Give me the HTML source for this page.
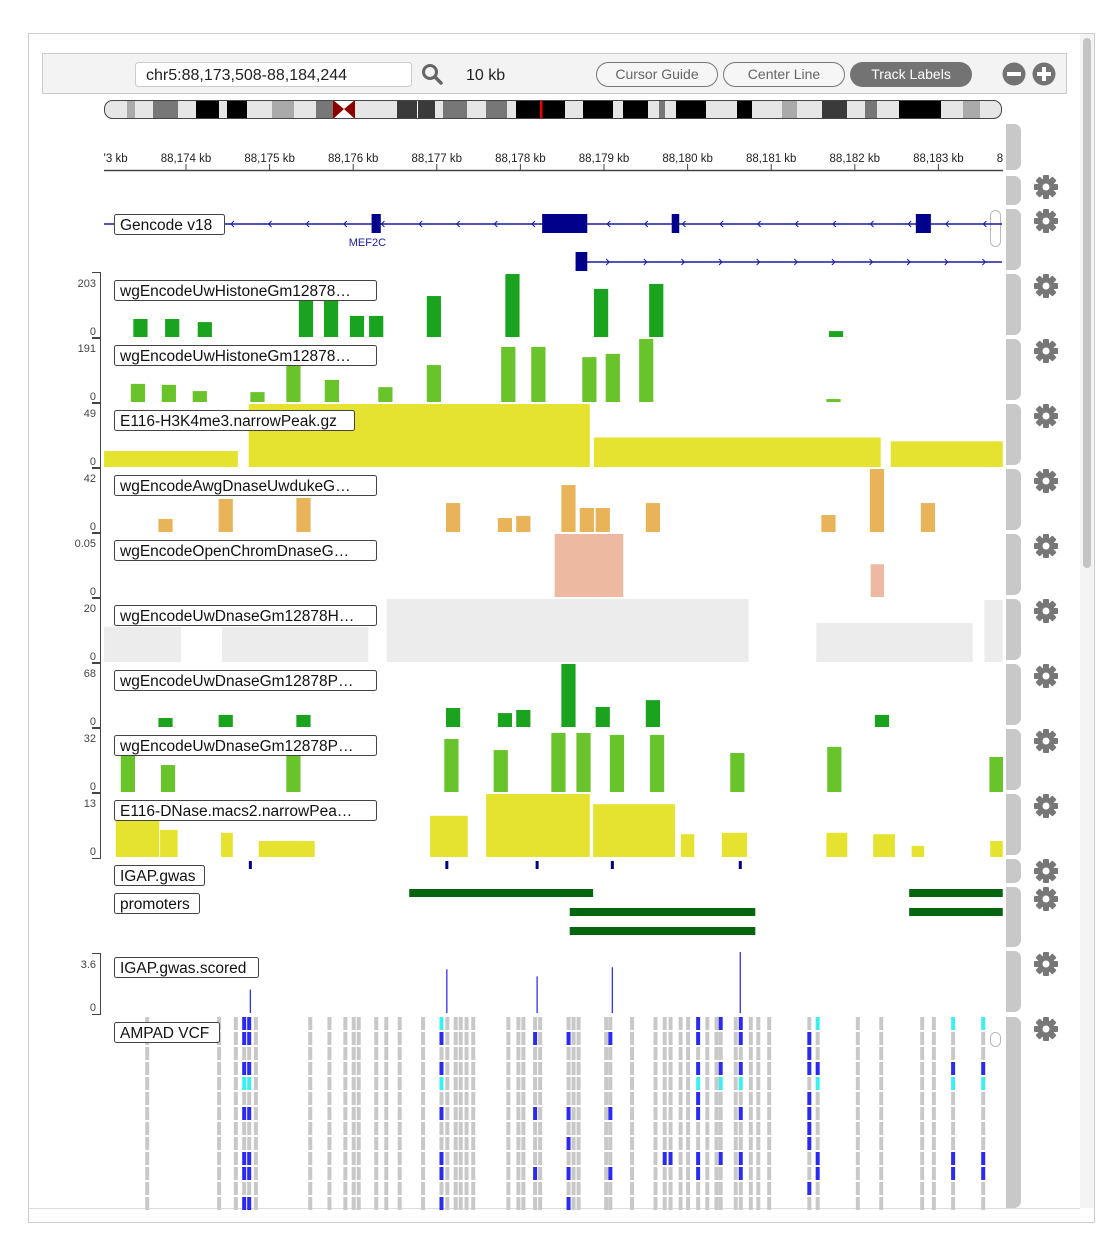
<!DOCTYPE html>
<html><head><meta charset="utf-8">
<style>
body{margin:0;width:1114px;height:1233px;background:#fff;font-family:"Liberation Sans",sans-serif;overflow:hidden;position:relative}
svg{position:absolute;left:0;top:0}
</style></head>
<body>
<svg id="main" width="1114" height="1233" xmlns="http://www.w3.org/2000/svg" font-family="Liberation Sans, sans-serif">
<defs><clipPath id="dclip"><rect x="104" y="120" width="899" height="1100"/></clipPath></defs>
<rect x="28.5" y="33.5" width="1066" height="1189" fill="#fff" stroke="#ccc"/>
<line x1="29" y1="1208.5" x2="1080" y2="1208.5" stroke="#ddd"/>
<rect x="1080" y="34" width="14" height="1174" fill="#f4f4f4"/>
<rect x="1083" y="38" width="8" height="530" rx="4" fill="#c4c4c4"/>
<g>
<rect x="42.5" y="53.5" width="1024" height="40" fill="#f3f3f3" stroke="#ccc"/>
<rect x="135.5" y="62.5" width="276" height="24" rx="3" fill="#fff" stroke="#ccc"/>
<text x="146" y="80" font-size="16" fill="#222">chr5:88,173,508-88,184,244</text>
<g><circle cx="430" cy="72" r="6.5" fill="none" stroke="#666" stroke-width="3"/><line x1="435" y1="77" x2="441" y2="83" stroke="#666" stroke-width="3.5" stroke-linecap="round"/></g>
<text x="466" y="80" font-size="16" fill="#222">10 kb</text>
<g><rect x="596.5" y="62.5" width="121" height="24" rx="12" fill="#f6f6f6" stroke="#777"/><text x="657" y="79" font-size="14" fill="#666" text-anchor="middle">Cursor Guide</text></g>
<g><rect x="723.5" y="62.5" width="121" height="24" rx="12" fill="#f6f6f6" stroke="#777"/><text x="784" y="79" font-size="14" fill="#666" text-anchor="middle">Center Line</text></g>
<g><rect x="850" y="62" width="122" height="25" rx="12.5" fill="#737373"/><text x="911" y="79" font-size="14" fill="#fff" text-anchor="middle">Track Labels</text></g>
<g><circle cx="1014" cy="74" r="11.5" fill="#737373"/><rect x="1007" y="72" width="14" height="4" fill="#fff"/></g>
<g><circle cx="1044" cy="74" r="11.5" fill="#737373"/><rect x="1037" y="72" width="14" height="4" fill="#fff"/><rect x="1042" y="67" width="4" height="14" fill="#fff"/></g>
</g>
<g id="ideo"></g>
<g id="side"></g>
<g id="ruler"></g>
<g id="tracks"></g>
</svg>
<script>
// ---- data ----
const rulerTicks=[173,174,175,176,177,178,179,180,181,182,183,184];
const geneExons=[[176.22,176.33],[178.26,178.80],[179.81,179.90],[182.73,182.91]];
const gene2Exons=[[178.66,178.80]];
const t1Start=[173.37,173.75,174.14,175.35,175.65,175.96,176.19,176.88,177.82,178.88,179.54,181.69];
const t1Val=[58,58,48,119,119,68,68,132,203,155,171,19];
const t2Start=[173.34,173.71,174.08,174.77,175.20,175.66,176.30,176.88,177.77,178.13,178.74,179.02,179.42,181.66];
const t2Val=[55,52,33,30,112,67,45,112,167,167,136,146,191,9];
const t3Start=[173.02,174.75,178.88,182.43];
const t3End=[174.62,178.83,182.31,183.77];
const t3Val=[12.4,49,23,20];
const t4Start=[173.67,174.39,175.32,177.11,177.73,177.95,178.49,178.71,178.90,179.50,181.60,182.18,182.79];
const t4Val=[8.7,22,22.7,19.3,9.3,10.7,31.3,16,16,19.3,11.3,42,19.3];
const t5Start=[178.41,182.19];
const t5End=[179.23,182.35];
const t5Val=[0.05,0.026];
const t6Start=[173.02,174.43,176.40,181.54,183.55];
const t6End=[173.94,176.18,180.73,183.41,183.77];
const t6Val=[11.1,11.1,20,12.4,19.7];
const t7Start=[173.67,174.39,175.32,177.11,177.73,177.95,178.49,178.90,179.50,182.24];
const t7Val=[9.7,13,13,20.5,15,18.4,68,21.6,29,13];
const t8Start=[173.22,173.70,175.20,177.09,177.68,178.37,178.67,179.07,179.55,180.51,181.67,183.61];
const t8Val=[18.3,13.7,18.3,26.9,21.3,30,30,29,29,19.8,22.9,17.8];
const t9Start=[173.16,173.69,174.42,174.87,176.92,177.59,178.87,179.92,180.41,181.66,182.22,182.68,183.62];
const t9End=[173.68,173.90,174.56,175.54,177.37,178.83,179.85,180.08,180.71,181.91,182.48,182.83,183.77];
const t9Val=[7.6,5.6,5,3.3,8.5,13,10.9,4.7,5,5,4.7,2.3,3.3];
const gwasPos=[174.77,177.12,178.20,179.10,180.63];
const gwasScore=[1.38,2.58,2.16,2.7,3.6];
const promStart=[176.67,182.65,178.59,182.65,178.59];
const promEnd=[178.87,183.77,180.81,183.77,180.81];
const promRow=[0,0,1,1,2];
const vcfPos=[173.53,174.39,174.59,174.69,174.75,174.83,175.48,175.71,175.90,176.00,176.06,176.27,176.39,176.55,176.83,177.05,177.12,177.22,177.28,177.35,177.43,177.85,177.97,178.03,178.17,178.23,178.57,178.63,178.69,179.02,179.07,179.33,179.61,179.72,179.79,179.91,180.00,180.12,180.23,180.34,180.39,180.57,180.63,180.75,180.84,180.97,181.45,181.55,182.03,182.31,182.80,182.94,183.17,183.53];
const vcfGeno={174.69:"bb.bc.b..bb.b",174.75:"bb.bc.b..bb.b",177.05:"cb.bc.b..bb.b",178.17:".b....b...b..",178.57:".b....b.b.b.b",179.07:".b....b...b..",179.72:".........b...",179.79:".........b...",180.12:"bb.bcbb..bb..",180.39:"b..bc....b...",180.63:"bb.bc.b..bb..",181.45:".bbb.bbbb..b.",181.55:"c..bc....bb..",183.17:"c..bc....bb..",183.53:"c..bc....bb.."};

// ---- helpers ----
const NS="http://www.w3.org/2000/svg";
const X=kb=>186+(kb-174)*83.6;
function mk(tag,attrs,parent){const e=document.createElementNS(NS,tag);for(const k in attrs)e.setAttribute(k,attrs[k]);parent.appendChild(e);return e;}
const tracks=document.getElementById('tracks');
const clipG=mk('g',{'clip-path':'url(#dclip)'},tracks);

// ideogram
const ideo=document.getElementById('ideo');
const bands=[[102,127,"#e6e6e6"],[127,135,"#aaa"],[135,153,"#e6e6e6"],[153,178,"#777"],[178,196,"#e6e6e6"],[196,219,"#000"],[219,227,"#e6e6e6"],[227,247,"#000"],[247,272,"#e6e6e6"],[272,294,"#aaa"],[294,316,"#e6e6e6"],[316,333,"#777"],[333,355,"#fff"],[355,397,"#e6e6e6"],[397,417,"#3a3a3a"],[418,435,"#3a3a3a"],[435,443,"#e6e6e6"],[443,467,"#777"],[467,486,"#e6e6e6"],[486,507,"#777"],[507,516,"#e6e6e6"],[516,565,"#000"],[565,583,"#e6e6e6"],[583,613,"#000"],[613,623,"#e6e6e6"],[623,648,"#000"],[648,659,"#e6e6e6"],[659,665,"#777"],[665,676,"#e6e6e6"],[676,706,"#000"],[706,737,"#e6e6e6"],[737,752,"#000"],[752,782,"#e6e6e6"],[782,797,"#aaa"],[797,822,"#e6e6e6"],[822,847,"#3a3a3a"],[847,865,"#e6e6e6"],[865,877,"#777"],[877,899,"#e6e6e6"],[899,941,"#000"],[941,963,"#e6e6e6"],[963,980,"#aaa"],[980,1002,"#e6e6e6"]];
mk('clipPath',{id:'iclip'},ideo).appendChild(Object.assign(document.createElementNS(NS,'rect'),{}));
const ic=ideo.querySelector('clipPath rect');ic.setAttribute('x',104.5);ic.setAttribute('y',100.5);ic.setAttribute('width',897);ic.setAttribute('height',18);ic.setAttribute('rx',8);
const ig=mk('g',{'clip-path':'url(#iclip)'},ideo);
bands.forEach(b=>{const r=mk('rect',{x:b[0],y:100,width:b[1]-b[0],height:19,fill:b[2]},ig);

});
mk('polygon',{points:"333,100 344,109 355,100 355,119 344,109 333,119",fill:"#8b0000"},ig);
mk('rect',{x:540,y:100,width:2.5,height:19,fill:"#e00"},ig);
mk('rect',{x:104.5,y:100.5,width:897,height:18,rx:8,fill:"none",stroke:"#444"},ideo);

// sidebar
const side=document.getElementById('side');
const segs=[[124,170],[176,205],[209,270],[274,335],[339,400],[404,465],[469,530],[534,595],[599,660],[664,725],[729,790],[794,855],[859,883],[887,947],[951,1012],[1017,1208]];
segs.forEach(s=>{const p=mk('path',{d:`M1006 ${s[0]} h8 a7 7 0 0 1 7 7 v${s[1]-s[0]-14} a7 7 0 0 1 -7 7 h-8 z`,fill:"#c8c8c8"},side);

});
const gears=[187,221,286,351,416,481,546,611,676,741,806,871,899,964,1029];
gears.forEach(y=>{const g=mk('g',{transform:`translate(1046 ${y})`},side);


for(let i=0;i<8;i++){mk('rect',{x:-3,y:-12,width:6,height:7,rx:1,fill:"#777",transform:`rotate(${i*45})`},g);}
mk('circle',{r:8.5,fill:"#777"},g);mk('circle',{r:3.5,fill:"#fff"},g);});
[[990,210,36],[990,1032,14]].forEach(a=>{const r=mk('rect',{x:a[0]+.5,y:a[1]+.5,width:10,height:a[2],rx:5,fill:"#fff",stroke:"#bbb"},side);

});

// ruler
const ruler=document.getElementById('ruler');
const rg=mk('g',{'clip-path':'url(#dclip)'},ruler);
mk('line',{x1:104,y1:170.5,x2:1003,y2:170.5,stroke:"#444","stroke-width":1.5},ruler);
rulerTicks.forEach(k=>{const t=mk('text',{x:X(k),y:162,'font-size':11.5,'text-anchor':'middle',fill:"#222"},rg);t.textContent=`88,${k} kb`;


mk('line',{x1:X(k),y1:164,x2:X(k),y2:170,stroke:"#444"},rg);});

// label box helper
function label(txt,x,y,w,name){const g=mk('g',{},tracks);


mk('rect',{x:x+.5,y:y+.5,width:w,height:20,rx:2,fill:"#fff",stroke:"#444"},g);
const t=mk('text',{x:x+6,y:y+16,'font-size':15.5,fill:"#111"},g);t.textContent=txt;}
function axis(top,bot,maxTxt,name){const g=mk('g',{},tracks);


mk('path',{d:`M92 ${top+.5} H100.5 V${bot-.5} H92`,fill:"none",stroke:"#444"},g);
const a=mk('text',{x:96,y:top+15,'font-size':11,'text-anchor':'end',fill:"#444"},g);a.textContent=maxTxt;
const b=mk('text',{x:96,y:bot-4,'font-size':11,'text-anchor':'end',fill:"#444"},g);b.textContent="0";}

// gene track
const gg=mk('g',{},clipG);


mk('line',{x1:104,y1:224,x2:X(183.76),y2:224,stroke:"#1a1aa0","stroke-width":1.5},gg);
for(let kb=173.2;kb<183.9;kb+=0.45){const x=X(kb);mk('path',{d:`M${x+2} 221 L${x-1} 224 L${x+2} 227`,fill:"none",stroke:"#1a1aa0"},gg);}
geneExons.forEach(e=>mk('rect',{x:X(e[0]),y:214,width:X(e[1])-X(e[0]),height:19,fill:"#00008b"},gg));
const gl=mk('text',{x:X(176.17),y:246,'font-size':11,'text-anchor':'middle',fill:"#1a1aa0"},gg);gl.textContent="MEF2C";
mk('line',{x1:X(178.66),y1:262,x2:X(183.76),y2:262,stroke:"#1a1aa0","stroke-width":1.5},gg);
for(let kb=179.05;kb<183.9;kb+=0.45){const x=X(kb);mk('path',{d:`M${x-2} 259 L${x+1} 262 L${x-2} 265`,fill:"none",stroke:"#1a1aa0"},gg);}
gene2Exons.forEach(e=>mk('rect',{x:X(e[0]),y:252,width:X(e[1])-X(e[0]),height:19,fill:"#00008b"},gg));
label("Gencode v18",114,214,110,"gencode-track-label");

// bar tracks
function barTrack(starts,ends,vals,max,top,color,name,w){
 const bot=top+63;const Y=v=>bot-v/max*63;
 starts.forEach((s,i)=>{const e=ends?ends[i]:s+w;
  const r=mk('rect',{x:X(s),y:Y(vals[i]),width:X(e)-X(s),height:bot-Y(vals[i]),fill:color},clipG);
  
  });}
const specs=[
 [t1Start,null,t1Val,203,274,"#1aa31e","histone-1","203","wgEncodeUwHistoneGm12878…",262],
 [t2Start,null,t2Val,191,339,"#68c42a","histone-2","191","wgEncodeUwHistoneGm12878…",262],
 [t3Start,t3End,t3Val,49,404,"#e5e330","h3k4me3","49","E116-H3K4me3.narrowPeak.gz",240],
 [t4Start,null,t4Val,42,469,"#e9b35a","dnase-duke","42","wgEncodeAwgDnaseUwdukeG…",262],
 [t5Start,t5End,t5Val,0.05,534,"#edb9a1","openchrom","0.05","wgEncodeOpenChromDnaseG…",262],
 [t6Start,t6End,t6Val,20,599,"#ececec","uwdnase-h","20","wgEncodeUwDnaseGm12878H…",262],
 [t7Start,null,t7Val,68,664,"#1aa31e","uwdnase-p1","68","wgEncodeUwDnaseGm12878P…",262],
 [t8Start,null,t8Val,32,729,"#68c42a","uwdnase-p2","32","wgEncodeUwDnaseGm12878P…",262],
 [t9Start,t9End,t9Val,13,794,"#e5e330","dnase-macs2","13","E116-DNase.macs2.narrowPea…",262]];
specs.forEach(s=>barTrack(s[0],s[1],s[2],s[3],s[4],s[5],s[6],0.17));
specs.forEach(s=>{axis(s[4]-2,s[4]+65,s[7],s[6]+'-y-axis');label(s[8],114,s[4]+6,s[9],s[6]+'-track-label');});

// gwas
gwasPos.forEach(p=>{const r=mk('rect',{x:X(p)-1.5,y:861,width:3,height:8,fill:"#00008b"},clipG);

});
label("IGAP.gwas",114,865,90,"igap-gwas-track-label");
promStart.forEach((s,i)=>{const r=mk('rect',{x:X(s),y:889+promRow[i]*19,width:X(promEnd[i])-X(s),height:8,fill:"#08650f"},clipG);

});
label("promoters",114,893,85,"promoters-track-label");
// scored
gwasPos.forEach((p,i)=>{const y=1013-gwasScore[i]/3.6*61;const l=mk('line',{x1:X(p),y1:y,x2:X(p),y2:1013,stroke:"#3333ee","stroke-width":1.3},clipG);

});
axis(953,1015,"3.6","gwas-scored-y-axis");
label("IGAP.gwas.scored",114,957,144,"igap-gwas-scored-track-label");

// vcf
const colMap={b:"#2a2af0",c:"#3af0f0",".":"#c8c8c8"};
vcfPos.forEach(p=>{const pat=vcfGeno[p.toFixed(2)]||vcfGeno[p];
 for(let r=0;r<13;r++){const ch=pat?pat[r]:".";
  const c=mk('rect',{x:X(p)-1.5,y:1017+r*15,width:4,height:13,fill:colMap[ch]||"#c8c8c8"},clipG);
  
  }});
label("AMPAD VCF",114,1022,105,"ampad-vcf-track-label");
</script>
</body></html>
